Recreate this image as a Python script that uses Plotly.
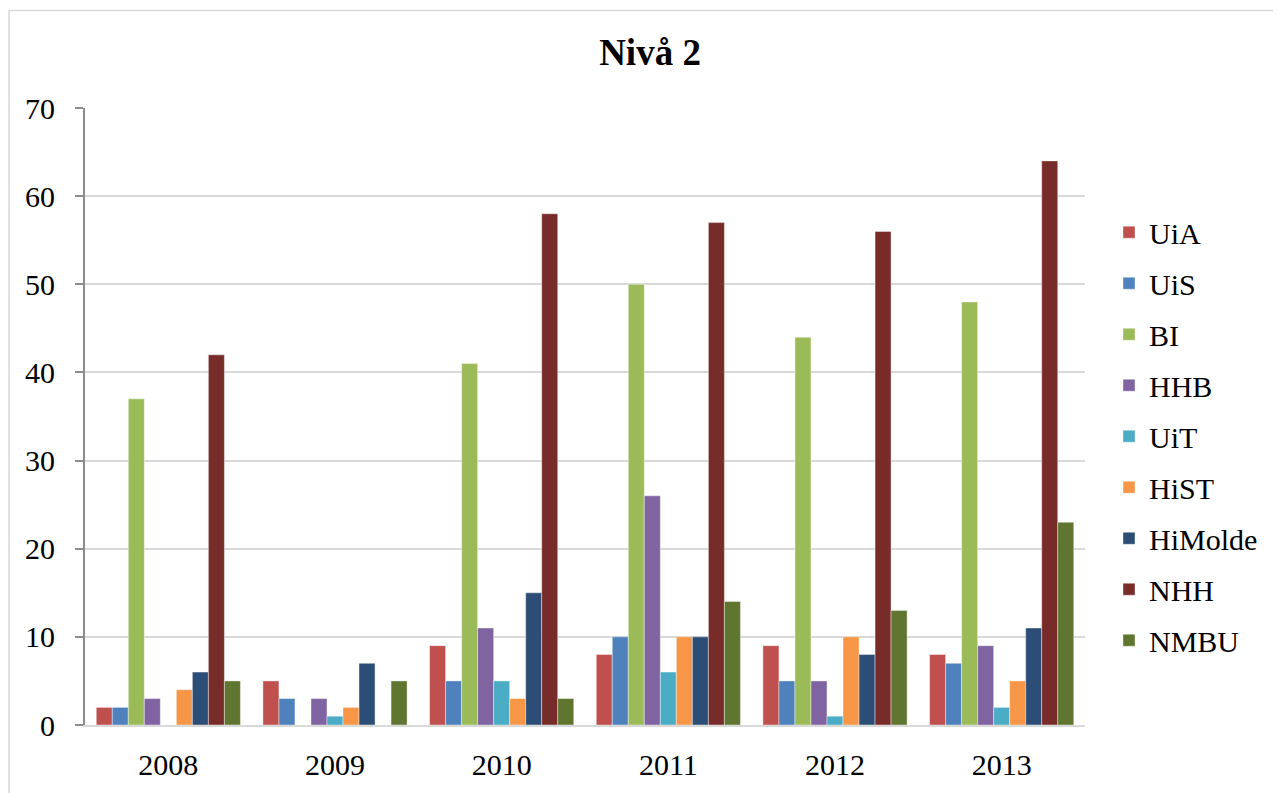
import plotly.graph_objects as go

years = ["2008", "2009", "2010", "2011", "2012", "2013"]
series_names = ["UiA", "UiS", "BI", "HHB", "UiT", "HiST", "HiMolde", "NHH", "NMBU"]
UiA = [2, 5, 9, 8, 9, 8]
UiS = [2, 3, 5, 10, 5, 7]
BI = [37, 0, 41, 50, 44, 48]
HHB = [3, 3, 11, 26, 5, 9]
UiT = [0, 1, 5, 6, 1, 2]
HiST = [4, 2, 3, 10, 10, 5]
HiMolde = [6, 7, 15, 10, 8, 11]
NHH = [42, 0, 58, 57, 56, 64]
NMBU = [5, 5, 3, 14, 13, 23]
values = [UiA, UiS, BI, HHB, UiT, HiST, HiMolde, NHH, NMBU]
colors = ["#C0504D", "#4F81BD", "#9BBB59", "#8064A2", "#4BACC6",
          "#F79646", "#2C4D75", "#772C2A", "#5F7530"]

fig = go.Figure()
for name, vals, c in zip(series_names, values, colors):
    fig.add_trace(go.Bar(x=years, y=vals, name=name, marker_color=c, legendgroup=name,
                         marker_line=dict(color="rgba(255,255,255,0.4)", width=1)))

font = "Liberation Serif, Times New Roman, serif"
W, H = 1273, 785
fig.update_layout(
    barmode="group",
    bargap=0.135,
    bargroupgap=0,
    width=W, height=H,
    margin=dict(l=77, r=196, t=100, b=64),
    plot_bgcolor="white", paper_bgcolor="white",
    font=dict(family=font, size=30, color="black"),
    title=dict(text="<b>Nivå 2</b>", x=642 / W, xref="container", xanchor="center",
               y=1 - 44 / H, yref="container", yanchor="middle",
               font=dict(family=font, size=37, color="black")),
    legend=dict(x=1.024, xanchor="left", y=0.468, yanchor="middle",
                font=dict(family=font, size=30), tracegroupgap=9,
                itemwidth=30, bgcolor="rgba(0,0,0,0)"),
    showlegend=True,
)
fig.update_yaxes(range=[0, 70], dtick=10, showgrid=True, gridcolor="#D9D9D9", gridwidth=2,
                 showline=True, linecolor="#8C8C8C", linewidth=2,
                 ticks="outside", ticklen=8, tickcolor="#8C8C8C", tickwidth=2,
                 zeroline=False, tickfont=dict(size=30), ticklabelstandoff=14)
fig.update_xaxes(showline=True, linecolor="#D9D9D9", linewidth=2, ticks="",
                 tickfont=dict(size=30), ticklabelstandoff=12)
fig.add_shape(type="rect", xref="paper", yref="paper",
              x0=-0.076, x1=1.3, y0=-0.2, y1=1.158,
              line=dict(color="#D9D9D9", width=1.5), layer="below")
fig.write_html("out.html")
